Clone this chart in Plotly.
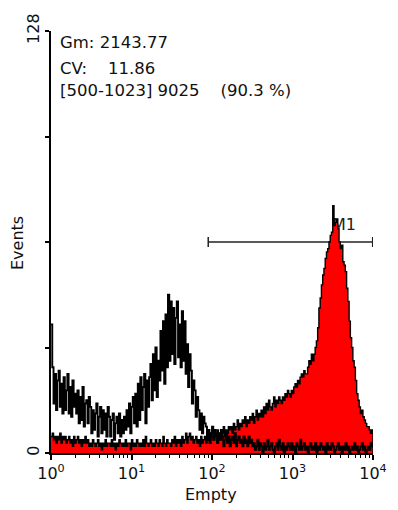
import plotly.graph_objects as go

# Histogram channels: 256 channels spanning four log decades (64 per decade)
CHANNELS_PER_DECADE = 64

# Sample (red, filled) event counts per channel
sample_counts = [
    5, 6, 4, 5, 3, 5, 4, 6, 3, 5, 4,
    5, 3, 4, 5, 3, 4, 2, 5, 3, 4, 5, 3, 4, 2, 4, 3, 5, 3, 4, 2,
    3, 2, 4, 3, 2, 3, 4, 2, 3, 1,
    3, 2, 4, 2, 3, 3, 2, 4, 2, 3,
    1, 3, 2, 4, 3, 2, 3, 2, 4, 2,
    3, 3, 1, 4, 2, 3, 2, 4, 3, 2,
    3, 2, 4, 2, 5, 3, 2, 3, 4, 2,
    3, 2, 4, 3, 2, 4, 3, 2, 5, 3,
    2, 4, 3, 3, 2, 4, 3, 5, 2, 4,
    3, 4, 2, 5, 3, 4,
    6, 3, 5, 6, 4, 5,
    3, 4, 5, 3, 4, 2, 5, 3, 4, 5, 3, 4, 5,
    4, 6, 5, 4, 6, 5, 7, 5, 6, 4,
    6, 8, 5, 7, 6, 8, 7,
    8, 6, 9, 7, 8, 10, 7, 9,
    8, 10, 9, 11, 8, 10, 9, 11,
    10, 12, 9, 11, 13, 10, 12, 11,
    13, 11, 14, 12, 15, 13, 16, 14, 13, 15,
    17, 14, 16, 15, 17, 16,
    15, 17, 16, 18, 17, 19, 18, 17,
    19, 18, 20, 21, 20, 22, 21, 23,
    24, 23, 25, 24, 24,
    26, 28, 27, 30,
    28, 30, 32, 34,
    38, 44, 47, 51,
    54, 56, 59, 61,
    62, 64, 66, 67,
    75, 69, 70,
    71, 68, 64, 62,
    63, 58, 57, 55,
    50, 46,
    40, 35, 32,
    28, 26,
    22, 18, 16,
    14, 12, 13, 11,
    10, 9, 8, 8,
    7, 6, 7,
]

# Control (black outline) event counts per channel
control_counts = [
    39, 26, 15, 24, 13, 22, 25, 14,
    21, 12, 23, 13, 19, 24, 12, 20, 11, 22, 14, 18, 12,
    19, 9, 17, 10, 20, 8, 15, 16, 9, 17,
    14, 6, 13, 7, 12, 15, 5, 11, 14, 6, 13, 7, 12, 5, 14,
    11, 5, 10, 12, 4, 9, 11, 6, 12, 5, 10, 6, 11,
    7, 13, 8, 15, 6, 14, 17, 9, 18, 8,
    21, 10, 23, 13, 20, 24, 9, 22, 14, 23,
    27, 16, 30, 19, 32, 17, 28,
    22, 37, 25, 40, 21, 42, 26,
    48, 28, 46, 30,
    44, 27, 41, 46, 29, 39, 26,
    43, 28, 40, 24,
    33, 20, 30,
    25, 15, 22,
    19, 11, 17,
    13, 7, 12, 6, 11, 9,
    8, 4, 7, 3, 6, 8, 4, 7, 5, 3, 6, 4, 7,
    5, 2, 4, 6, 3, 5, 2, 4, 5, 3, 6, 2, 4, 5, 3, 4, 2, 5, 3, 4, 2, 5, 3, 4, 2,
    3, 1, 2, 4, 1, 3, 2, 0, 3, 1,
    2, 4, 1, 2, 3, 1, 0, 2, 3, 1,
    4, 2, 1, 3, 0, 2, 1, 3, 2, 1,
    3, 1, 2, 0, 3, 2, 1, 4, 1, 2,
    3, 1, 2, 0, 2, 3, 1, 2, 1, 3,
    0, 2, 1, 3, 2, 1, 2, 0, 3, 1,
    2, 1, 3, 2, 0, 1, 2, 3, 1, 2,
    0, 2, 1, 3, 1, 2, 0, 1, 2, 1,
    3, 1, 2, 0, 1, 2, 3, 1, 2, 0,
    1, 2, 1, 3, 2,
]

# Marker M1 gate (1024-channel resolution) and its display level
m1_channels = [500, 1023]
m1_level = 64
m1_label = "M1"

# Statistics text
stats_lines = [
    "Gm: 2143.77",
    "CV:\u00a0\u00a0\u00a0\u00a011.86",
    "[500-1023] 9025\u00a0\u00a0\u00a0\u00a0(90.3 %)",
]

# Axis ticks
x_tickvals = [1, 10, 100, 1000, 10000]
x_ticktext = ["10<sup>0</sup>", "10<sup>1</sup>", "10<sup>2</sup>", "10<sup>3</sup>", "10<sup>4</sup>"]
x_minor = [m * 10 ** d for d in range(4) for m in range(2, 10)]
y_tickvals = [0, 32, 64, 96, 128]
y_ticktext = ["0", "", "", "", "128"]

FONT = "DejaVu Sans"


def step_path(counts, close=False):
    edges = [10 ** (i / CHANNELS_PER_DECADE) for i in range(len(counts) + 1)]
    xs = edges[:-1] + [edges[-1]]
    ys = list(counts) + [counts[-1]]
    if close:
        xs.append(edges[-1])
        ys.append(0)
    return xs, ys


def ch1024_to_value(ch):
    return 10 ** (ch / 256)


fig = go.Figure()

# M1 gate bar with end caps (drawn beneath the histograms)
gx0, gx1 = ch1024_to_value(m1_channels[0]), ch1024_to_value(m1_channels[1])
cap = 1.5
fig.add_trace(go.Scatter(
    x=[gx0, gx0, None, gx0, gx1, None, gx1, gx1],
    y=[m1_level - cap, m1_level + cap, None, m1_level, m1_level, None,
       m1_level - cap, m1_level + cap],
    mode="lines", line=dict(color="#222222", width=1.5),
    hoverinfo="skip", showlegend=False,
))
fig.add_trace(go.Scatter(
    x=[10 ** 3.49], y=[m1_level + 4.8], mode="text", text=[m1_label],
    textposition="middle right",
    textfont=dict(family=FONT, size=16, color="#222222"),
    hoverinfo="skip", showlegend=False,
))

# Sample histogram, filled red with black edge
sx, sy = step_path(sample_counts, close=True)
fig.add_trace(go.Scatter(
    x=sx, y=sy, mode="lines", line=dict(shape="hv", color="black", width=1.4),
    fill="tozeroy", fillcolor="#ff0000", showlegend=False,
))

# Control histogram outline
cx, cy = step_path(control_counts)
fig.add_trace(go.Scatter(
    x=cx, y=cy, mode="lines", line=dict(shape="hv", color="black", width=1.9),
    showlegend=False,
))

annotations = []
for i, line in enumerate(stats_lines):
    annotations.append(dict(
        x=0.022, y=[0.9716, 0.912, 0.860][i], xref="paper", yref="paper",
        text=line, showarrow=False, xanchor="left", yanchor="middle",
        font=dict(family=FONT, size=16.5, color="#111111"),
    ))
annotations.append(dict(
    x=-0.1056, y=0.4976, xref="paper", yref="paper", text="Events",
    textangle=-90, showarrow=False, xanchor="center", yanchor="middle",
    font=dict(family=FONT, size=16, color="#111111"),
))
annotations.append(dict(
    x=0.497, y=-0.0972, xref="paper", yref="paper", text="Empty",
    showarrow=False, xanchor="center", yanchor="middle",
    font=dict(family=FONT, size=16, color="#111111"),
))

fig.update_layout(
    width=398, height=510,
    margin=dict(l=51, r=25, t=31, b=57),
    paper_bgcolor="white", plot_bgcolor="white",
    showlegend=False,
    annotations=annotations,
    xaxis=dict(
        type="log", range=[0, 4], showgrid=False, zeroline=False,
        showline=True, linecolor="black", linewidth=2,
        ticks="outside", ticklen=5, tickwidth=1.5, tickcolor="black",
        tickmode="array", tickvals=x_tickvals, ticktext=x_ticktext,
        tickfont=dict(family=FONT, size=16, color="#111111"),
        minor=dict(ticks="outside", ticklen=3, tickwidth=1, tickcolor="black",
                   tickmode="array", tickvals=x_minor),
    ),
    yaxis=dict(
        range=[0, 128], showgrid=False, zeroline=False,
        showline=True, linecolor="black", linewidth=2,
        ticks="outside", ticklen=4, tickwidth=1.5, tickcolor="black",
        tickmode="array", tickvals=y_tickvals, ticktext=y_ticktext,
        tickangle=-90,
        tickfont=dict(family=FONT, size=16, color="#111111"),
    ),
)

fig.write_html("out.html")
